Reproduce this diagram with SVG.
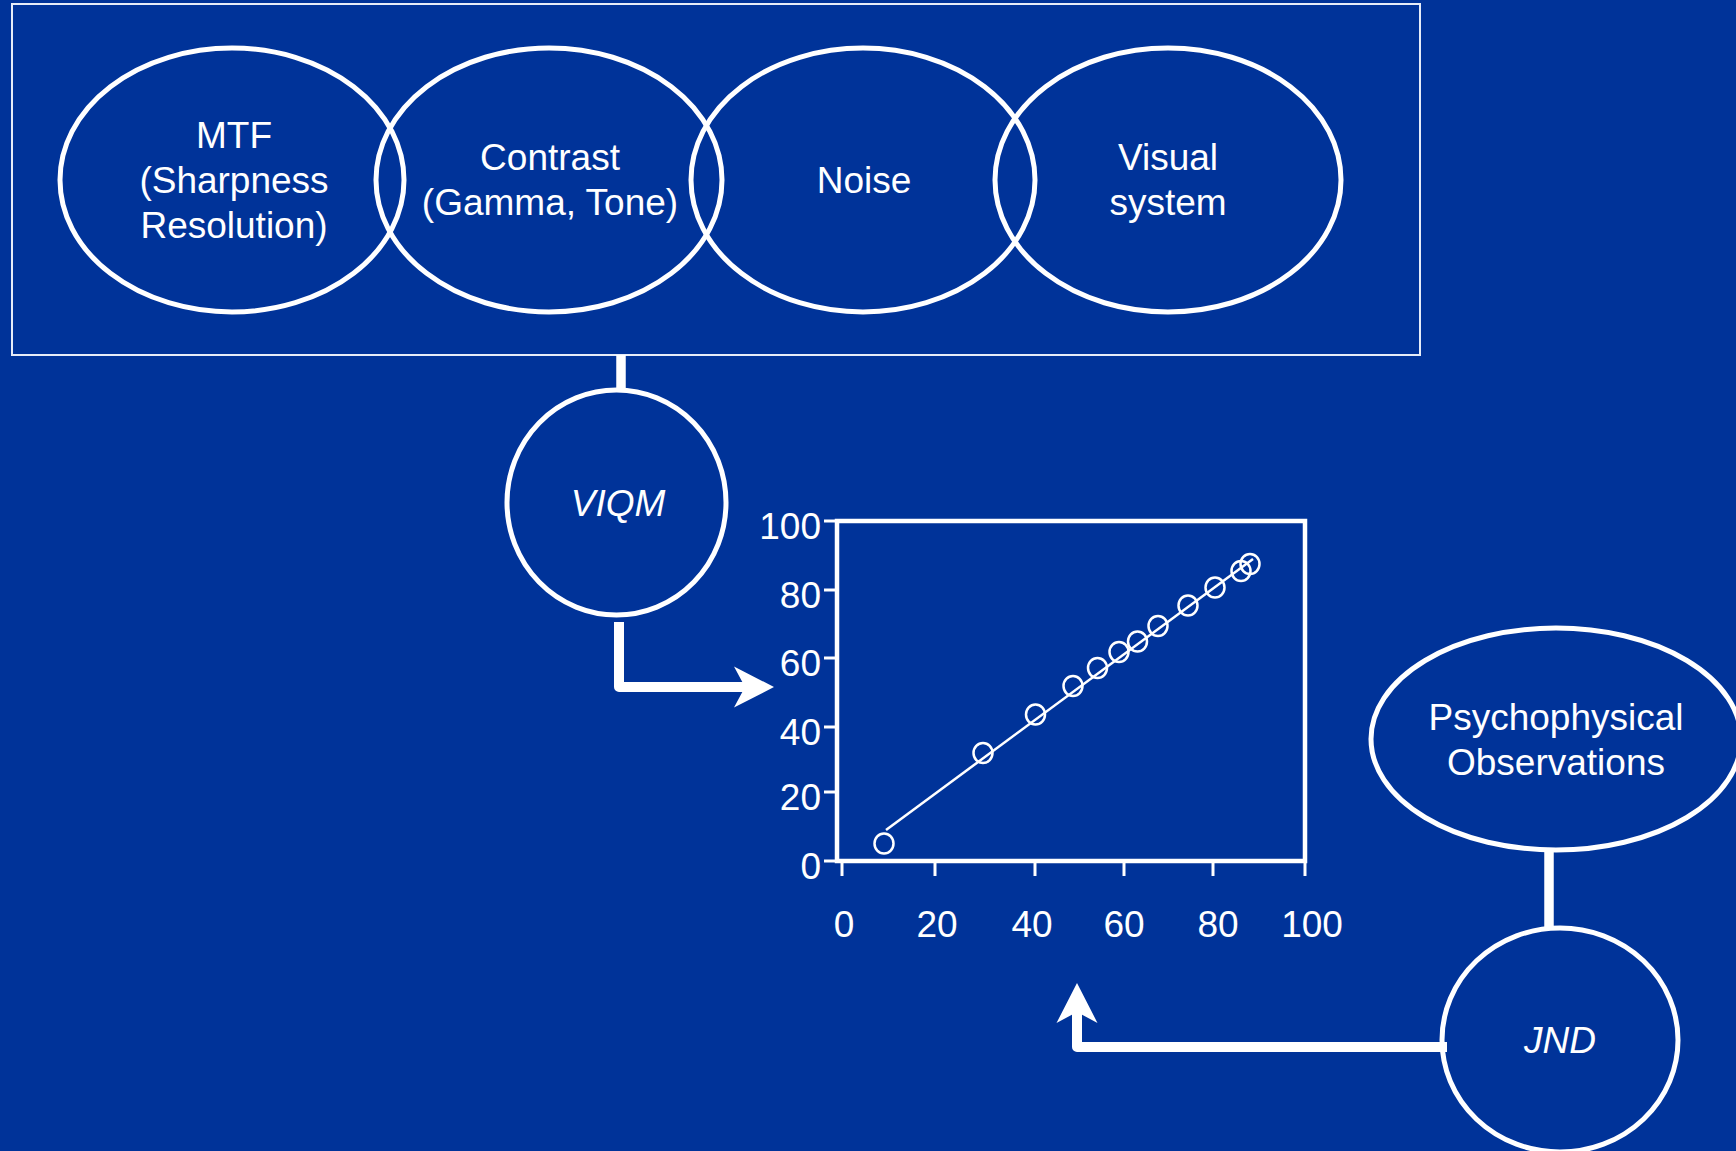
<svg xmlns="http://www.w3.org/2000/svg" width="1736" height="1151" viewBox="0 0 1736 1151">
  <defs>
    <style>
      .bg { fill: #003399; }
      .node { fill: none; stroke: #ffffff; stroke-width: 5; }
      .frame { fill: none; stroke: #e6ecf8; stroke-width: 2; }
      .label { fill: #ffffff; font-family: "Liberation Sans", Arial, sans-serif; font-size: 37px; text-anchor: middle; }
      .ital { font-style: italic; }
      .conn { fill: none; stroke: #ffffff; stroke-width: 10; stroke-linejoin: round; }
      .axis { fill: none; stroke: #ffffff; stroke-width: 4.5; }
      .tick { stroke: #ffffff; stroke-width: 3; }
      .tlabel { fill: #ffffff; font-family: "Liberation Sans", Arial, sans-serif; font-size: 37px; }
      .pt { fill: none; stroke: #ffffff; stroke-width: 2.5; }
      .fit { stroke: #ffffff; stroke-width: 2.5; }
    </style>
    <marker id="head" markerUnits="userSpaceOnUse" markerWidth="50" markerHeight="50" viewBox="-15 -25 50 50" refX="0" refY="0" orient="auto">
      <path d="M29,0 L-11,-20.5 L0,0 L-11,20.5 Z" fill="#ffffff"/>
    </marker>
  </defs>

  <rect class="bg" x="0" y="0" width="1736" height="1151"/>

  <!-- frame around the four factors -->
  <rect id="factors-frame" class="frame" x="12" y="4" width="1408" height="351"/>

  <g id="mtf">
    <ellipse class="node" cx="232" cy="180" rx="172" ry="132"/>
    <text class="label" x="234" y="148">MTF</text>
    <text class="label" x="234" y="193">(Sharpness</text>
    <text class="label" x="234" y="238">Resolution)</text>
  </g>
  <g id="contrast">
    <ellipse class="node" cx="549" cy="180" rx="173" ry="132"/>
    <text class="label" x="550" y="170">Contrast</text>
    <text class="label" x="550" y="215">(Gamma, Tone)</text>
  </g>
  <g id="noise">
    <ellipse class="node" cx="863" cy="180" rx="172" ry="132"/>
    <text class="label" x="864" y="193">Noise</text>
  </g>
  <g id="visual-system">
    <ellipse class="node" cx="1168" cy="180" rx="173" ry="132"/>
    <text class="label" x="1168" y="170">Visual</text>
    <text class="label" x="1168" y="215">system</text>
  </g>

  <g id="viqm">
    <ellipse class="node" cx="616.5" cy="502.5" rx="109.5" ry="112.5"/>
    <text class="label ital" x="618" y="516">VIQM</text>
  </g>

  <g id="psychophysical">
    <ellipse class="node" cx="1556" cy="739" rx="185" ry="111"/>
    <text class="label" x="1556" y="730">Psychophysical</text>
    <text class="label" x="1556" y="775">Observations</text>
  </g>

  <g id="jnd">
    <ellipse class="node" cx="1560" cy="1040" rx="118" ry="112"/>
    <text class="label ital" x="1560" y="1053">JND</text>
  </g>

  <!-- scatter plot -->
  <g id="plot">
    <rect class="axis" x="837" y="521" width="468" height="340"/>
    <g class="tick">
      <line x1="824" y1="521" x2="837" y2="521"/>
      <line x1="824" y1="590" x2="837" y2="590"/>
      <line x1="824" y1="658" x2="837" y2="658"/>
      <line x1="824" y1="727" x2="837" y2="727"/>
      <line x1="824" y1="792" x2="837" y2="792"/>
      <line x1="824" y1="861" x2="837" y2="861"/>
      <line x1="842" y1="863" x2="842" y2="876"/>
      <line x1="935" y1="863" x2="935" y2="876"/>
      <line x1="1035" y1="863" x2="1035" y2="876"/>
      <line x1="1124" y1="863" x2="1124" y2="876"/>
      <line x1="1213" y1="863" x2="1213" y2="876"/>
      <line x1="1305" y1="863" x2="1305" y2="876"/>
    </g>
    <g class="tlabel" text-anchor="end">
      <text x="821" y="539">100</text>
      <text x="821" y="608">80</text>
      <text x="821" y="676">60</text>
      <text x="821" y="745">40</text>
      <text x="821" y="810">20</text>
      <text x="821" y="879">0</text>
    </g>
    <g class="tlabel" text-anchor="middle">
      <text x="844" y="937">0</text>
      <text x="937" y="937">20</text>
      <text x="1032" y="937">40</text>
      <text x="1124" y="937">60</text>
      <text x="1218" y="937">80</text>
      <text x="1312" y="937">100</text>
    </g>
    <line class="fit" x1="886" y1="830" x2="1253" y2="559"/>
    <g class="pt">
      <ellipse cx="884" cy="843.5" rx="9.5" ry="10"/>
      <ellipse cx="983" cy="753" rx="9.5" ry="10"/>
      <ellipse cx="1035.5" cy="714.5" rx="9.5" ry="10"/>
      <ellipse cx="1073" cy="686" rx="9.5" ry="10"/>
      <ellipse cx="1097.5" cy="668" rx="9.5" ry="10"/>
      <ellipse cx="1119" cy="652" rx="9.5" ry="10"/>
      <ellipse cx="1137.5" cy="641.5" rx="9.5" ry="10"/>
      <ellipse cx="1158" cy="626" rx="9.5" ry="10"/>
      <ellipse cx="1188" cy="605.5" rx="9.5" ry="10"/>
      <ellipse cx="1215" cy="587.5" rx="9.5" ry="10"/>
      <ellipse cx="1241" cy="571" rx="9.5" ry="10"/>
      <ellipse cx="1250" cy="564" rx="9.5" ry="10"/>
    </g>
  </g>

  <g id="connectors">
    <line class="conn" x1="621" y1="355" x2="621" y2="390" style="stroke-width:9.5"/>
    <path class="conn" d="M619,622 V687 H745" marker-end="url(#head)"/>
    <line class="conn" x1="1549" y1="850" x2="1549" y2="929" style="stroke-width:9.5"/>
    <path class="conn" d="M1447,1047 H1077 V1012" marker-end="url(#head)"/>
  </g>
</svg>
